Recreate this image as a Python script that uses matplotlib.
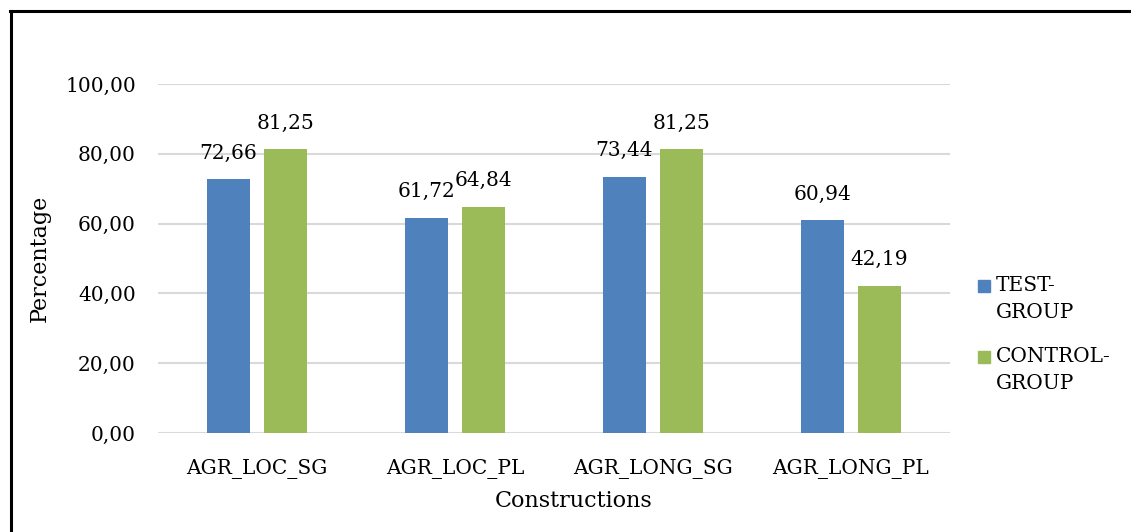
import matplotlib
matplotlib.use("Agg")
import matplotlib.pyplot as plt
from matplotlib.lines import Line2D
from matplotlib.patches import Rectangle
import numpy as np

categories = ["AGR_LOC_SG", "AGR_LOC_PL", "AGR_LONG_SG", "AGR_LONG_PL"]
test_group = [72.66, 61.72, 73.44, 60.94]
control_group = [81.25, 64.84, 81.25, 42.19]
series_names = ["TEST-\nGROUP", "CONTROL-\nGROUP"]
y_ticks = [0, 20, 40, 60, 80, 100]

BLUE = "#4F81BD"
GREEN = "#9BBB59"
FONT = "DejaVu Serif"
FS = 14.5
FS_TITLE = 16

plt.rcParams["font.family"] = FONT

fig = plt.figure(figsize=(11.31, 5.32), dpi=100)
ax = fig.add_axes([158 / 1131, 1 - 433 / 532, (950 - 158) / 1131, (433 - 84) / 532])

x = np.arange(len(categories))
width = 0.222
offset = 0.144

def fmt(v):
    return f"{v:.2f}".replace(".", ",")

for vals, color, dx in [(test_group, BLUE, -offset), (control_group, GREEN, offset)]:
    bars = ax.bar(x + dx, vals, width, color=color, zorder=3)
    for b, v in zip(bars, vals):
        ax.annotate(fmt(v), (b.get_x() + b.get_width() / 2, v),
                    xytext=(0, 12), textcoords="offset points",
                    ha="center", va="bottom", fontsize=FS, color="#000000")

ax.set_xlim(-0.5, len(categories) - 0.5)
ax.set_ylim(0, 100)
ax.set_yticks(y_ticks)
ax.set_yticklabels([fmt(t) for t in y_ticks], fontsize=FS)
ax.set_xticks(x)
ax.set_xticklabels(categories, fontsize=FS)
ax.tick_params(axis="both", length=0)
ax.tick_params(axis="y", pad=16)
ax.tick_params(axis="x", pad=19)
ax.yaxis.grid(True, color="#D9D9D9", linewidth=1.5, zorder=0)
ax.set_axisbelow(True)
for s in ax.spines.values():
    s.set_visible(False)

fig.text(40 / 1131, 1 - 258 / 532, "Percentage", rotation=90, ha="center",
         va="center", fontsize=FS_TITLE)
fig.text(574 / 1131, 1 - 501 / 532, "Constructions", ha="center",
         va="center", fontsize=FS_TITLE)

# legend, drawn with the marker aligned to the first text line
legend_items = [(series_names[0], BLUE, 286), (series_names[1], GREEN, 357)]
for label, color, ypix in legend_items:
    fig.patches.append(Rectangle((978 / 1131, 1 - (ypix + 6) / 532), 12 / 1131, 12 / 532,
                                 transform=fig.transFigure, color=color))
    fig.text(996 / 1131, 1 - (ypix - 10) / 532, label, ha="left", va="top",
             fontsize=FS, linespacing=1.55)

# chart border
fig.add_artist(Line2D([11 / 1131, 11 / 1131], [0, 1 - 11 / 532], color="black",
                      linewidth=2.2, transform=fig.transFigure))
fig.add_artist(Line2D([10 / 1131, 1], [1 - 11 / 532, 1 - 11 / 532], color="black",
                      linewidth=2.2, transform=fig.transFigure))

fig.savefig("out.png", dpi=100)
